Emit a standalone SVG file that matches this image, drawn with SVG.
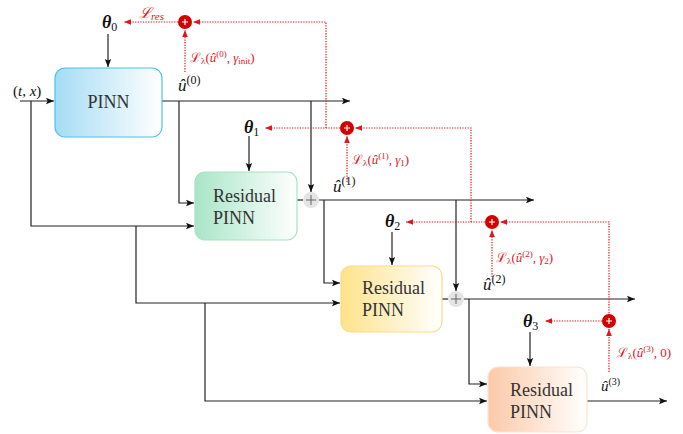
<svg xmlns="http://www.w3.org/2000/svg" width="683" height="434" viewBox="0 0 683 434">
<style>
.k{fill:none;stroke:#222;stroke-width:1.2}
.r{fill:none;stroke:#e0161b;stroke-width:1.2;stroke-dasharray:1.3 1.3}
.box{stroke-width:1.2}
.bt{font-family:"Liberation Serif","DejaVu Serif",serif;font-size:18px;fill:#333}
.m{font-family:"Liberation Serif","DejaVu Serif",serif;fill:#111}
.rl{font-family:"Liberation Serif","DejaVu Serif",serif;fill:#e0161b}
.th{font-weight:bold;font-style:italic;font-size:18px}
.gc{fill:#e4e4e4}
.gp{stroke:#666;stroke-width:1}
.rc{fill:#d40000}
.rp{stroke:#fff;stroke-width:1.2}
</style>
<defs>
<marker id="ak" viewBox="0 0 10 10" refX="10" refY="5" markerWidth="8" markerHeight="8" markerUnits="userSpaceOnUse" orient="auto"><path d="M0,1 L10,5 L0,9 L2,5 z" fill="#111"/></marker>
<marker id="ar" viewBox="0 0 10 10" refX="10" refY="5" markerWidth="7" markerHeight="7" markerUnits="userSpaceOnUse" orient="auto"><path d="M0,1 L10,5 L0,9 z" fill="#e0161b"/></marker>
<linearGradient id="gB" x1="0" x2="1" y1="0" y2="0"><stop offset="0" stop-color="#a6dcf5"/><stop offset="1" stop-color="#ffffff"/></linearGradient>
<linearGradient id="gG" x1="0" x2="1" y1="0" y2="0"><stop offset="0" stop-color="#a9e5c8"/><stop offset="1" stop-color="#ffffff"/></linearGradient>
<linearGradient id="gY" x1="0" x2="1" y1="0" y2="0"><stop offset="0" stop-color="#fde38a"/><stop offset="1" stop-color="#ffffff"/></linearGradient>
<linearGradient id="gO" x1="0" x2="1" y1="0" y2="0"><stop offset="0" stop-color="#fcc9a8"/><stop offset="1" stop-color="#ffffff"/></linearGradient>
</defs>
<rect width="683" height="434" fill="#fff"/>

<g id="connectors">
<path class="k" d="M20,101 H54" marker-end="url(#ak)"/>
<path class="k" d="M31,101 V226 H194" marker-end="url(#ak)"/>
<path class="k" d="M162,101 H350" marker-end="url(#ak)"/>
<path class="k" d="M179,101 V203 H194" marker-end="url(#ak)"/>
<path class="k" d="M311,101 V192" marker-end="url(#ak)"/>
<path class="k" d="M108,34 V67" marker-end="url(#ak)"/>
<path class="k" d="M249,136 V171" marker-end="url(#ak)"/>
<path class="k" d="M297,200 H303"/>
<path class="k" d="M319,200 H534" marker-end="url(#ak)"/>
<path class="k" d="M324,200 V283 H340" marker-end="url(#ak)"/>
<path class="k" d="M456,200 V291" marker-end="url(#ak)"/>
<path class="k" d="M136,226 V303 H340" marker-end="url(#ak)"/>
<path class="k" d="M392,232 V265" marker-end="url(#ak)"/>
<path class="k" d="M442,299 H448"/>
<path class="k" d="M464,299 H635" marker-end="url(#ak)"/>
<path class="k" d="M469,299 V384 H487" marker-end="url(#ak)"/>
<path class="k" d="M205,303 V401 H487" marker-end="url(#ak)"/>
<path class="k" d="M530,332 V366" marker-end="url(#ak)"/>
<path class="k" d="M587,401 H667" marker-end="url(#ak)"/>

<path class="r" d="M185,72 V30" marker-end="url(#ar)"/>
<path class="r" d="M178,22 H124" marker-end="url(#ar)"/>
<path class="r" d="M326,128 V22 H193" marker-end="url(#ar)"/>
<path class="r" d="M347,182 V136" marker-end="url(#ar)"/>
<path class="r" d="M340,128 H265" marker-end="url(#ar)"/>
<path class="r" d="M471,222 V128 H355" marker-end="url(#ar)"/>
<path class="r" d="M492,277 V230" marker-end="url(#ar)"/>
<path class="r" d="M485,222 H406" marker-end="url(#ar)"/>
<path class="r" d="M609,321 V222 H500" marker-end="url(#ar)"/>
<path class="r" d="M609,372 V329" marker-end="url(#ar)"/>
<path class="r" d="M602,321 H545" marker-end="url(#ar)"/>
</g>

<g id="pinn0">
<rect class="box" x="55" y="68" width="107" height="69" rx="10" fill="url(#gB)" stroke="#4cc4e6"/>
<text class="bt" x="108.5" y="108" text-anchor="middle">PINN</text>
</g>
<g id="res1">
<rect class="box" x="195" y="172" width="102" height="68" rx="10" fill="url(#gG)" stroke="#a6e3c4"/>
<text class="bt" x="213" y="202">Residual</text>
<text class="bt" x="213" y="224">PINN</text>
</g>
<g id="res2">
<rect class="box" x="341" y="266" width="101" height="66" rx="10" fill="url(#gY)" stroke="#fbdb8e"/>
<text class="bt" x="362" y="294">Residual</text>
<text class="bt" x="362" y="316">PINN</text>
</g>
<g id="res3">
<rect class="box" x="488" y="367" width="99" height="65" rx="10" fill="url(#gO)" stroke="#fde2d0"/>
<text class="bt" x="510" y="396">Residual</text>
<text class="bt" x="510" y="418">PINN</text>
</g>

<g id="plus1"><circle class="gc" cx="311" cy="200" r="8"/><path class="gp" d="M306,200 H316 M311,195 V205"/></g>
<g id="plus2"><circle class="gc" cx="456" cy="299" r="8"/><path class="gp" d="M451,299 H461 M456,294 V304"/></g>

<g id="sum0"><circle class="rc" cx="185" cy="22" r="7"/><path class="rp" d="M182,22 H188 M185,19 V25"/></g>
<g id="sum1"><circle class="rc" cx="347" cy="128" r="7"/><path class="rp" d="M344,128 H350 M347,125 V131"/></g>
<g id="sum2"><circle class="rc" cx="492" cy="222" r="7"/><path class="rp" d="M489,222 H495 M492,219 V225"/></g>
<g id="sum3"><circle class="rc" cx="609" cy="321" r="7"/><path class="rp" d="M606,321 H612 M609,318 V324"/></g>

<g id="labels">
<text class="m" x="13" y="96" font-size="15">(<tspan font-style="italic">t</tspan>, <tspan font-style="italic">x</tspan>)</text>
<text class="m" x="102" y="28"><tspan class="th">θ</tspan><tspan font-size="12" dy="3">0</tspan></text>
<text class="m" x="244" y="133"><tspan class="th">θ</tspan><tspan font-size="12" dy="3">1</tspan></text>
<text class="m" x="385" y="227"><tspan class="th">θ</tspan><tspan font-size="12" dy="3">2</tspan></text>
<text class="m" x="523" y="327"><tspan class="th">θ</tspan><tspan font-size="12" dy="3">3</tspan></text>
<text class="rl" x="139" y="18" font-size="15" font-style="italic">ℒ<tspan font-size="11" dy="2">res</tspan></text>
<text class="m" x="178" y="91" font-size="17"><tspan font-style="italic">û</tspan><tspan font-size="12" dy="-7">(0)</tspan></text>
<text class="m" x="333" y="192" font-size="17"><tspan font-style="italic">û</tspan><tspan font-size="12" dy="-7">(1)</tspan></text>
<text class="m" x="483" y="290" font-size="17"><tspan font-style="italic">û</tspan><tspan font-size="12" dy="-7">(2)</tspan></text>
<text class="m" x="601" y="391" font-size="15"><tspan font-style="italic">û</tspan><tspan font-size="10" dy="-6">(3)</tspan></text>
<text class="rl" x="190" y="62" font-size="13">ℒ<tspan font-size="9" dy="2">λ</tspan><tspan dy="-2">(</tspan><tspan font-style="italic">û</tspan><tspan font-size="9" dy="-5">(0)</tspan><tspan dy="5">, </tspan><tspan font-style="italic">γ</tspan><tspan font-size="9" dy="2">init</tspan><tspan dy="-2">)</tspan></text>
<text class="rl" x="352" y="164" font-size="13">ℒ<tspan font-size="9" dy="2">λ</tspan><tspan dy="-2">(</tspan><tspan font-style="italic">û</tspan><tspan font-size="9" dy="-5">(1)</tspan><tspan dy="5">, </tspan><tspan font-style="italic">γ</tspan><tspan font-size="9" dy="2">1</tspan><tspan dy="-2">)</tspan></text>
<text class="rl" x="496" y="262" font-size="13">ℒ<tspan font-size="9" dy="2">λ</tspan><tspan dy="-2">(</tspan><tspan font-style="italic">û</tspan><tspan font-size="9" dy="-5">(2)</tspan><tspan dy="5">, </tspan><tspan font-style="italic">γ</tspan><tspan font-size="9" dy="2">2</tspan><tspan dy="-2">)</tspan></text>
<text class="rl" x="617" y="357" font-size="13">ℒ<tspan font-size="9" dy="2">λ</tspan><tspan dy="-2">(</tspan><tspan font-style="italic">û</tspan><tspan font-size="9" dy="-5">(3)</tspan><tspan dy="5">, 0)</tspan></text>
</g>
</svg>
